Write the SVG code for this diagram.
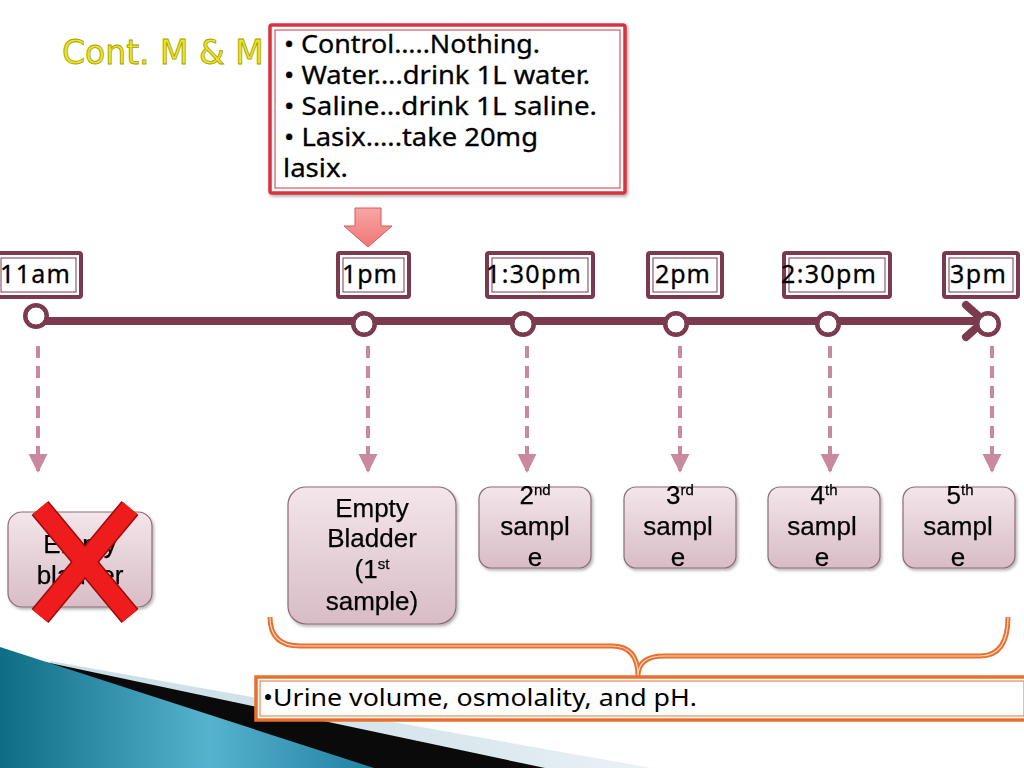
<svg xmlns="http://www.w3.org/2000/svg" width="1024" height="768" viewBox="0 0 1024 768">
<defs>
<style>
.t{font-family:"Noto Sans","DejaVu Sans",sans-serif;fill:#000}
.lbl{font-size:25px}
.nd{font-family:"Liberation Sans",Arial,sans-serif;font-size:26px;text-anchor:middle;stroke:#000;stroke-width:0.25}
.sup{font-size:15px}
.tb{fill:#fff;stroke:#7b3a4e;stroke-width:4}
.tbi{fill:none;stroke:#7b3a4e;stroke-width:1}
.node{fill:url(#ng);stroke:#8d6a78;stroke-width:1.2}
.dash{stroke:#c98aa0;stroke-width:4;stroke-dasharray:12 8;fill:none}
</style>
<linearGradient id="ng" x1="0" y1="0" x2="0" y2="1">
<stop offset="0" stop-color="#f3e6ea"/>
<stop offset="1" stop-color="#d8bcc6"/>
</linearGradient>
<linearGradient id="teal" gradientUnits="userSpaceOnUse" x1="0" y1="0" x2="380" y2="0">
<stop offset="0" stop-color="#0e6c84"/>
<stop offset="0.55" stop-color="#55b3cf"/>
<stop offset="1" stop-color="#1f7f9e"/>
</linearGradient>
<linearGradient id="lite" gradientUnits="userSpaceOnUse" x1="40" y1="0" x2="900" y2="0">
<stop offset="0" stop-color="#c9dde6"/>
<stop offset="0.5" stop-color="#dbe8ee"/>
<stop offset="1" stop-color="#ffffff"/>
</linearGradient>
<linearGradient id="pinkarrow" x1="0" y1="0" x2="0" y2="1">
<stop offset="0" stop-color="#f8a6a6"/>
<stop offset="1" stop-color="#f07676"/>
</linearGradient>
<marker id="ah" viewBox="0 0 10 10" refX="9" refY="5" markerWidth="4.8" markerHeight="4.8" orient="auto" markerUnits="strokeWidth">
<path d="M0,0 L10,5 L0,10 Z" fill="#c98aa0"/>
</marker>
<filter id="sh" x="-10%" y="-10%" width="130%" height="130%">
<feDropShadow dx="1.5" dy="2" stdDeviation="1.5" flood-color="#000" flood-opacity="0.3"/>
</filter>
</defs>
<rect width="1024" height="768" fill="#fff"/>

<!-- decoration bottom-left -->
<g id="decor">
<polygon points="50,661 1000,830 0,830" fill="url(#lite)"/>
<polygon points="45,662 545,768 0,768" fill="#0a0a0a"/>
<polygon points="0,647 374,768 0,768" fill="url(#teal)"/>
</g>

<!-- title -->
<g id="title">
<text x="62" y="64" font-family="'DejaVu Sans',sans-serif" font-size="33" fill="#e8e820" stroke="#a89a00" stroke-width="0.8">Cont. M &amp; M</text>
</g>

<!-- instruction box -->
<g id="instructions">
<rect x="270" y="25" width="355" height="168" rx="2" fill="#fff" stroke="#d9333f" stroke-width="3.5" filter="url(#sh)"/>
<rect x="275" y="30" width="345" height="158" fill="none" stroke="#d9333f" stroke-width="1"/>
<g class="t" font-size="25" stroke="#000" stroke-width="0.3">
<text x="284" y="53" textLength="256" lengthAdjust="spacingAndGlyphs">• Control…..Nothing.</text>
<text x="284" y="84" textLength="306" lengthAdjust="spacingAndGlyphs">• Water….drink 1L water.</text>
<text x="284" y="115" textLength="313" lengthAdjust="spacingAndGlyphs">•  Saline…drink 1L saline.</text>
<text x="284" y="146" textLength="254" lengthAdjust="spacingAndGlyphs">• Lasix…..take 20mg</text>
<text x="283" y="177" textLength="65" lengthAdjust="spacingAndGlyphs">lasix.</text>
</g>
</g>

<!-- pink down arrow -->
<g id="bigarrow">
<polygon points="355,208 381,208 381,226 392,226 368,247 344,226 355,226" fill="url(#pinkarrow)" stroke="#d45a5a" stroke-width="1"/>
</g>

<!-- timeline -->
<g id="connectors">
<line x1="36" y1="321" x2="984" y2="321" stroke="#7b3a4e" stroke-width="8"/>
<polyline points="966,305 984,321 966,337" fill="none" stroke="#7b3a4e" stroke-width="8" stroke-linecap="round" stroke-linejoin="round"/>
<line class="dash" x1="38" y1="346" x2="38" y2="471" marker-end="url(#ah)"/>
<line class="dash" x1="368" y1="346" x2="368" y2="471" marker-end="url(#ah)"/>
<line class="dash" x1="527" y1="346" x2="527" y2="471" marker-end="url(#ah)"/>
<line class="dash" x1="680" y1="346" x2="680" y2="471" marker-end="url(#ah)"/>
<line class="dash" x1="830" y1="346" x2="830" y2="471" marker-end="url(#ah)"/>
<line class="dash" x1="992" y1="346" x2="992" y2="471" marker-end="url(#ah)"/>
<path d="M270,617 Q270,646 300,646 L612,646 Q638,646 638,676 Q638,656 664,656 L980,656 Q1008,656 1008,617" fill="none" stroke="#e8702e" stroke-width="5"/>
<path d="M270,617 Q270,646 300,646 L612,646 Q638,646 638,676 Q638,656 664,656 L980,656 Q1008,656 1008,617" fill="none" stroke="#fbd7c2" stroke-width="1.2"/>
</g>

<!-- timeline points -->
<g id="points">
<g fill="#7b3a4e">
<circle cx="36" cy="316" r="13"/><circle cx="364" cy="324" r="13"/><circle cx="523" cy="324" r="13"/><circle cx="676" cy="324" r="13"/><circle cx="828" cy="324" r="13"/><circle cx="988" cy="324" r="13"/>
</g>
<g fill="#fff" stroke="#7b3a4e" stroke-width="1">
<circle cx="36" cy="316" r="9"/><circle cx="364" cy="324" r="9"/><circle cx="523" cy="324" r="9"/><circle cx="676" cy="324" r="9"/><circle cx="828" cy="324" r="9"/><circle cx="988" cy="324" r="9"/>
</g>
</g>

<!-- time labels -->
<g id="t11am"><rect class="tb" x="-4" y="253" width="85" height="44" rx="2"/><rect class="tbi" x="1" y="258" width="75" height="34"/><text class="t lbl" x="0" y="283" textLength="70" stroke="#000" stroke-width="0.3">11am</text></g>
<g id="t1pm"><rect class="tb" x="338" y="253" width="71" height="44" rx="2"/><rect class="tbi" x="343" y="258" width="61" height="34"/><text class="t lbl" x="342" y="283" textLength="55" stroke="#000" stroke-width="0.3">1pm</text></g>
<g id="t130pm"><rect class="tb" x="487" y="253" width="106" height="44" rx="2"/><rect class="tbi" x="492" y="258" width="96" height="34"/><text class="t lbl" x="486" y="283" textLength="95" stroke="#000" stroke-width="0.3">1:30pm</text></g>
<g id="t2pm"><rect class="tb" x="648" y="253" width="74" height="44" rx="2"/><rect class="tbi" x="653" y="258" width="64" height="34"/><text class="t lbl" x="655" y="283" textLength="55" stroke="#000" stroke-width="0.3">2pm</text></g>
<g id="t230pm"><rect class="tb" x="784" y="253" width="106" height="44" rx="2"/><rect class="tbi" x="789" y="258" width="96" height="34"/><text class="t lbl" x="781" y="283" textLength="95" stroke="#000" stroke-width="0.3">2:30pm</text></g>
<g id="t3pm"><rect class="tb" x="944" y="253" width="74" height="44" rx="2"/><rect class="tbi" x="949" y="258" width="64" height="34"/><text class="t lbl" x="950" y="283" textLength="56" stroke="#000" stroke-width="0.3">3pm</text></g>

<!-- sample nodes -->
<g id="n0" filter="url(#sh)"><rect class="node" x="8" y="512" width="144" height="95" rx="14"/>
<text class="nd"><tspan x="80" y="553">Empty</tspan><tspan x="80" y="584">bladder</tspan></text></g>
<g id="n1" filter="url(#sh)"><rect class="node" x="288" y="487" width="168" height="137" rx="18"/>
<text class="nd"><tspan x="372" y="517">Empty</tspan><tspan x="372" y="547">Bladder</tspan><tspan x="372" y="578">(1</tspan><tspan class="sup" dy="-9">st</tspan><tspan x="372" y="610">sample)</tspan></text></g>
<g id="n2" filter="url(#sh)"><rect class="node" x="479" y="487" width="112" height="81" rx="12"/>
<text class="nd"><tspan x="535" y="504">2</tspan><tspan class="sup" dy="-9">nd</tspan><tspan x="535" y="535">sampl</tspan><tspan x="535" y="566">e</tspan></text></g>
<g id="n3" filter="url(#sh)"><rect class="node" x="624" y="487" width="112" height="81" rx="12"/>
<text class="nd"><tspan x="680" y="504">3</tspan><tspan class="sup" dy="-9">rd</tspan><tspan x="678" y="535">sampl</tspan><tspan x="678" y="566">e</tspan></text></g>
<g id="n4" filter="url(#sh)"><rect class="node" x="768" y="487" width="112" height="81" rx="12"/>
<text class="nd"><tspan x="824" y="504">4</tspan><tspan class="sup" dy="-9">th</tspan><tspan x="822" y="535">sampl</tspan><tspan x="822" y="566">e</tspan></text></g>
<g id="n5" filter="url(#sh)"><rect class="node" x="903" y="487" width="112" height="81" rx="12"/>
<text class="nd"><tspan x="960" y="504">5</tspan><tspan class="sup" dy="-9">th</tspan><tspan x="958" y="535">sampl</tspan><tspan x="958" y="566">e</tspan></text></g>

<!-- red X -->
<g id="cross">
<line x1="40" y1="508" x2="130" y2="616" stroke="#9e0a0a" stroke-width="22"/>
<line x1="130" y1="508" x2="40" y2="616" stroke="#9e0a0a" stroke-width="22"/>
<line x1="40" y1="508" x2="130" y2="616" stroke="#ee1c1c" stroke-width="19"/>
<line x1="130" y1="508" x2="40" y2="616" stroke="#ee1c1c" stroke-width="19"/>
</g>

<!-- result box -->
<g id="result">
<rect x="256" y="677" width="772" height="43" fill="#fff" stroke="#e8702e" stroke-width="3.5"/>
<rect x="260" y="681" width="764" height="35" fill="none" stroke="#e8702e" stroke-width="1"/>
<text class="t" x="263" y="706" font-size="23" textLength="434" lengthAdjust="spacingAndGlyphs">•Urine volume, osmolality, and pH.</text>
</g>
</svg>
